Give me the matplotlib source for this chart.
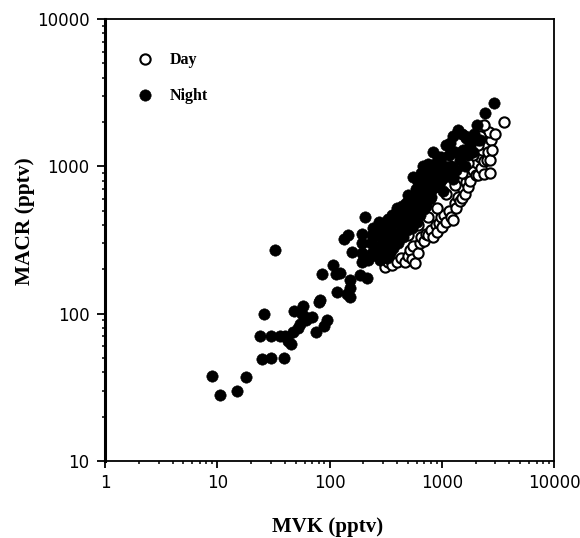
import matplotlib
matplotlib.use("Agg")
import matplotlib.pyplot as plt

day_mvk = [315, 330, 360, 400, 430, 470, 500, 520, 540, 560, 580, 610, 640, 660, 700, 720, 760, 800,
           830, 880, 900, 950, 980, 1000, 1050, 1100, 1150, 1200, 1250, 1300, 1350, 1400, 1450, 1500,
           1550, 1600, 1650, 1700, 1750, 1800, 1900, 2000, 2050, 2100, 2200, 2250, 2300, 2400, 2400,
           2500, 2550, 2600, 2700, 2700, 2750, 2800, 2650, 2400, 3000, 3550, 2200, 2100, 1900, 1700,
           1500, 1300, 1100, 900, 750, 620, 500]
day_macr = [208, 225, 215, 225, 240, 225, 245, 270, 235, 290, 220, 260, 300, 330, 310, 350, 340, 370,
            330, 400, 360, 410, 450, 390, 470, 420, 500, 450, 430, 560, 520, 620, 580, 610,
            700, 650, 780, 720, 860, 800, 950, 880, 1050, 870, 1150, 980, 1300, 1080, 890,
            1400, 1100, 1250, 900, 1100, 1500, 1300, 1700, 1900, 1650, 2000, 1600, 1400, 1200, 1050,
            900, 750, 650, 520, 450, 400, 340]

night_mvk = [9, 10.5, 15, 18, 25, 30, 39, 24, 26, 30, 33, 36, 40, 43, 45, 47, 48, 52, 55, 57, 58, 60,
             62, 70, 76, 80, 82, 86, 90, 95, 108, 115, 117, 125, 135, 145, 143, 153, 153, 153, 160,
             187, 195, 195, 195, 195, 205, 208, 215,
             220, 235, 245, 250, 260, 275, 280, 295,
             240, 240, 255, 265, 270, 285, 290, 305, 315, 325, 335, 345, 355, 365, 375,
             300, 310, 320, 330, 340, 350, 360, 370, 380, 390, 400, 410, 420, 430, 440, 450, 460,
             470, 480, 490, 500, 510, 520, 530, 540, 550, 560, 570, 580, 590, 600, 610, 620, 630,
             640, 650, 660, 670, 680, 690, 700, 710, 720, 730, 740, 750, 760, 780, 790, 800, 820,
             835, 850, 870, 890, 900, 920, 940, 960, 980, 1000, 1020, 1050, 1080, 1100, 1120, 1150,
             1180, 1200, 1250, 1250, 1300, 1350, 1400, 1450, 1500, 1550, 1600, 1650, 1700, 1800,
             1900, 2060, 2100, 2200, 2430, 2950, 1600, 1750, 1950]
night_macr = [38, 28, 30, 37, 49, 50, 50, 70, 100, 70, 270, 70, 70, 65, 62, 75, 105, 80, 85, 100, 112, 95,
              90, 95, 75, 120, 124, 186, 82, 90, 214, 185, 140, 190, 320, 340, 135, 169, 150, 130, 263,
              183, 350, 300, 260, 225, 240, 455, 174,
              230, 300, 380, 250, 340, 420, 230, 280,
              260, 340, 290, 380, 250, 330, 400, 300, 370, 240, 440, 260, 400, 330, 440,
              350, 250, 420, 290, 390, 310, 470, 280, 350, 420, 520, 300, 450, 370, 540, 330, 480,
              410, 560, 370, 640, 450, 600, 500, 380, 850, 620, 440, 540, 700, 420, 480, 780, 600,
              470, 900, 530, 680, 1000, 510, 780, 580, 880, 540, 680, 1040, 800, 600, 950, 620, 700,
              1250, 860, 720, 1050, 750, 1150, 950, 780, 1150, 820, 680, 1000, 860, 1400, 880, 1200,
              1450, 1000, 820, 1600, 1250, 950, 1760, 1100, 1650, 1300, 1000, 1550, 1200, 1400,
              1250, 1900, 1500, 1500, 2300, 2690, 1600, 1500, 1650]

serif = "Liberation Serif"

fig = plt.figure(figsize=(5.8, 5.38), dpi=100)
ax = fig.add_axes([105 / 580, 1 - 461 / 538, 449 / 580, 442 / 538])

ax.plot(day_mvk, day_macr, "o", ms=7.4, mfc="white", mec="black", mew=1.5, label="Day", clip_on=False)
ax.plot(night_mvk, night_macr, "o", ms=8.2, mfc="black", mec="black", mew=0.4, label="Night", clip_on=False)

ax.set_xscale("log")
ax.set_yscale("log")
ax.set_xlim(1, 10000)
ax.set_ylim(10, 10000)
ax.set_xticks([1, 10, 100, 1000, 10000], ["1", "10", "100", "1000", "10000"])
ax.set_yticks([10, 100, 1000, 10000], ["10", "100", "1000", "10000"])
ax.tick_params(which="major", direction="out", length=5, width=1.3, labelsize=12, pad=4)
ax.tick_params(axis="y", which="major", length=6, pad=5)
ax.tick_params(which="minor", direction="out", length=2.5, width=1.1)

for side in ["top", "bottom", "right"]:
    ax.spines[side].set_linewidth(1.3)
ax.spines["left"].set_linewidth(2.2)

ax.set_xlabel("MVK (pptv)", family=serif, weight="bold", fontsize=15, va="center")
ax.xaxis.set_label_coords(0.495, -66 / 442)
ax.set_ylabel("MACR (pptv)", family=serif, weight="bold", fontsize=15.4, va="center")
ax.yaxis.set_label_coords(-80 / 449, 0.543)

ax.legend(loc="upper left", bbox_to_anchor=(0.0535, 0.925), frameon=False, handletextpad=0.56,
          labelspacing=1.25, borderpad=0, borderaxespad=0,
          prop={"family": serif, "weight": "bold", "size": 11.5})

fig.savefig("out.png", dpi=100)
